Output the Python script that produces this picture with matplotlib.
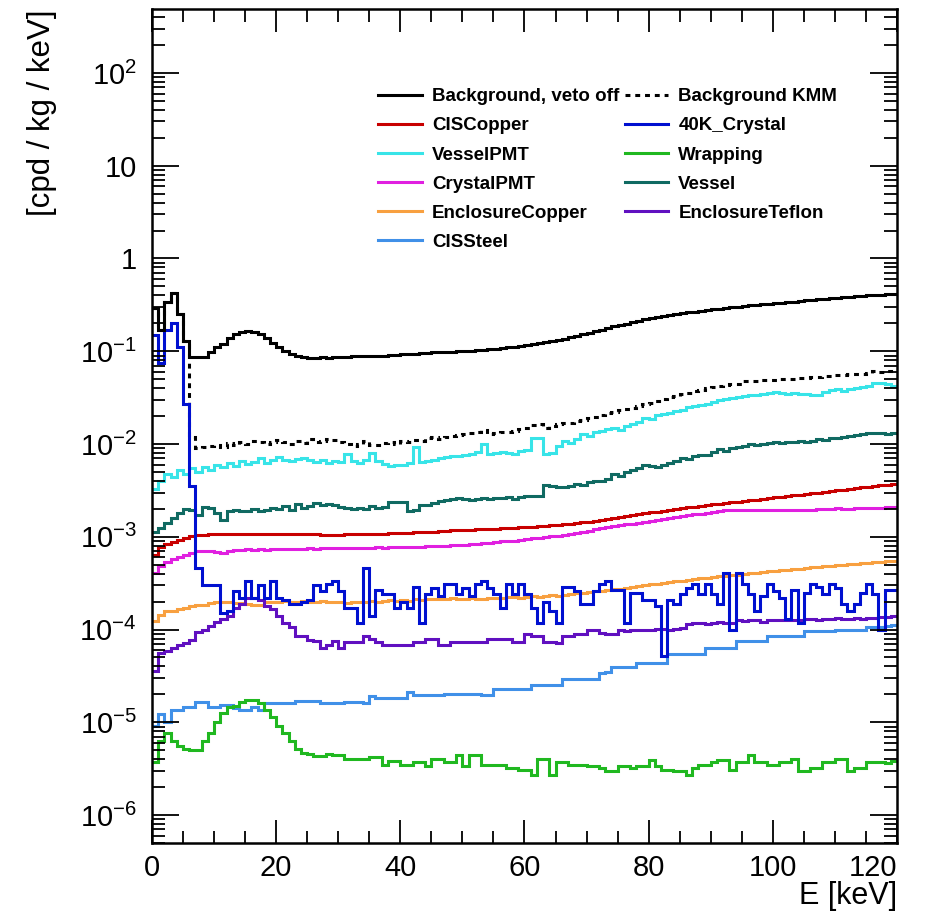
import numpy as np
import matplotlib
matplotlib.use("Agg")
import matplotlib.pyplot as plt
from matplotlib.lines import Line2D
from matplotlib.ticker import MultipleLocator, LogLocator, FuncFormatter, NullFormatter

plt.rcParams['font.family'] = ['Liberation Sans', 'DejaVu Sans']

# ---------------- data (1 keV bins, 0-120 keV) ----------------
bin_edges_keV = list(range(0, 121))

bkg_veto_off = [
    0.29, 0.17, 0.34, 0.42, 0.25, 0.13, 0.086, 0.086, 0.086, 0.097,
    0.11, 0.12, 0.139, 0.153, 0.162, 0.165, 0.162, 0.153, 0.139, 0.124,
    0.11, 0.101, 0.094, 0.089, 0.086, 0.085, 0.085, 0.086, 0.085, 0.086,
    0.087, 0.086, 0.088, 0.089, 0.088, 0.089, 0.090, 0.088, 0.091, 0.092,
    0.093, 0.094, 0.094, 0.095, 0.096, 0.097, 0.098, 0.097, 0.099, 0.100,
    0.101, 0.101, 0.102, 0.104, 0.105, 0.106, 0.108, 0.110, 0.112, 0.114,
    0.116, 0.119, 0.122, 0.125, 0.129, 0.133, 0.137, 0.142, 0.147, 0.153,
    0.159, 0.165, 0.171, 0.178, 0.185, 0.192, 0.199, 0.206, 0.213, 0.220,
    0.227, 0.233, 0.240, 0.246, 0.252, 0.258, 0.263, 0.268, 0.273, 0.278,
    0.283, 0.288, 0.293, 0.298, 0.303, 0.308, 0.312, 0.316, 0.320, 0.324,
    0.328, 0.333, 0.338, 0.343, 0.348, 0.353, 0.358, 0.363, 0.368, 0.373,
    0.378, 0.383, 0.388, 0.392, 0.396, 0.400, 0.404, 0.408, 0.412, 0.416]

bkg_kmm = [
    0.29, 0.17, 0.34, 0.42, 0.25, 0.13, 0.012, 0.0091, 0.0093, 0.0095,
    0.0098, 0.0094, 0.0102, 0.0097, 0.0105, 0.0101, 0.0108, 0.0104, 0.0099, 0.0106,
    0.0110, 0.0104, 0.0100, 0.0107, 0.0102, 0.0112, 0.0105, 0.0108, 0.0113, 0.0110,
    0.0104, 0.0101, 0.0096, 0.0100, 0.0108, 0.0098, 0.0097, 0.0103, 0.0106, 0.0101,
    0.0109, 0.0104, 0.0111, 0.0107, 0.0116, 0.0118, 0.0113, 0.0120, 0.0123, 0.0126,
    0.0129, 0.0131, 0.0134, 0.0140, 0.0128, 0.0132, 0.0136, 0.0135, 0.0139, 0.0145,
    0.0147, 0.0160, 0.0164, 0.0149, 0.0158, 0.0165, 0.0170, 0.0168, 0.0176, 0.0182,
    0.0190, 0.0197, 0.0208, 0.0214, 0.0220, 0.0230, 0.0238, 0.0246, 0.0255, 0.0268,
    0.0280, 0.0292, 0.0305, 0.0318, 0.0330, 0.0345, 0.0358, 0.0372, 0.0385, 0.0398,
    0.0410, 0.0420, 0.0430, 0.0440, 0.0448, 0.0475, 0.0480, 0.0482, 0.0486, 0.0490,
    0.0492, 0.0498, 0.0502, 0.0508, 0.0512, 0.0517, 0.0522, 0.0528, 0.0535, 0.0542,
    0.0550, 0.0556, 0.0562, 0.0568, 0.0574, 0.0580, 0.0610, 0.0605, 0.0612, 0.0608]

cis_copper = [
    0.00064, 0.00077, 0.00083, 0.00088, 0.00092, 0.00098, 0.00101, 0.00104, 0.00104, 0.00106,
    0.00106, 0.00107, 0.00107, 0.00106, 0.00107, 0.00108, 0.00107, 0.00108, 0.00108, 0.00107,
    0.00108, 0.00107, 0.00108, 0.00107, 0.00106, 0.00107, 0.00106, 0.00105, 0.00105, 0.00104,
    0.00105, 0.00106, 0.00106, 0.00106, 0.00107, 0.00107, 0.00108, 0.00108, 0.00109, 0.00110,
    0.00111, 0.00111, 0.00112, 0.00112, 0.00113, 0.00114, 0.00115, 0.00116, 0.00117, 0.00118,
    0.00118, 0.00119, 0.00120, 0.00121, 0.00121, 0.00122, 0.00123, 0.00124, 0.00125, 0.00126,
    0.00127, 0.00128, 0.00130, 0.00131, 0.00133, 0.00135, 0.00137, 0.00139, 0.00141, 0.00143,
    0.00146, 0.00149, 0.00152, 0.00156, 0.00160, 0.00163, 0.00167, 0.00171, 0.00175, 0.00179,
    0.00183, 0.00187, 0.00191, 0.00195, 0.00199, 0.00203, 0.00207, 0.00211, 0.00215, 0.00219,
    0.00223, 0.00227, 0.00231, 0.00235, 0.00240, 0.00244, 0.00248, 0.00252, 0.00257, 0.00261,
    0.00266, 0.00270, 0.00275, 0.00280, 0.00285, 0.00290, 0.00295, 0.00300, 0.00305, 0.00310,
    0.00316, 0.00322, 0.00328, 0.00334, 0.00340, 0.00346, 0.00352, 0.00358, 0.00364, 0.00370]

k40_crystal = [
    0.15, 0.075, 0.17, 0.20, 0.11, 0.027, 0.0035, 0.00046, 0.00030, 0.00030,
    0.00030, 0.00015, 0.00016, 0.00026, 0.00022, 0.00033, 0.00022, 0.00030, 0.00022, 0.00033,
    0.00022, 0.00021, 0.00019, 0.00019, 0.00020, 0.00021, 0.00030, 0.00026, 0.00031, 0.00033,
    0.00026, 0.00017, 0.00017, 0.000118, 0.00046, 0.00014, 0.00027, 0.00024, 0.00024, 0.00017,
    0.00020, 0.00017, 0.00029, 0.000118, 0.00024, 0.00028, 0.00023, 0.00031, 0.00031, 0.00024,
    0.00028, 0.00023, 0.00031, 0.00033, 0.00028, 0.00024, 0.00017, 0.00031, 0.00024, 0.00031,
    0.00024, 0.00017, 0.000118, 0.00020, 0.00016, 0.000118, 0.00029, 0.00029, 0.00026, 0.00019,
    0.00019, 0.00026, 0.00031, 0.00033, 0.00027, 0.00027, 0.000118, 0.00025, 0.00025, 0.00021,
    0.00021, 0.00018, 0.000052, 0.00021, 0.00019, 0.00024, 0.00028, 0.00031, 0.00024, 0.00031,
    0.00024, 0.00019, 0.00041, 0.00010, 0.00041, 0.00031, 0.00024, 0.00016, 0.00023, 0.00031,
    0.00026, 0.00022, 0.00013, 0.00027, 0.000118, 0.00025, 0.00031, 0.00029, 0.00024, 0.00031,
    0.00028, 0.00019, 0.00016, 0.00019, 0.00025, 0.00031, 0.00024, 0.00010, 0.00027, 0.00027]

vessel_pmt = [
    0.0033, 0.0040, 0.0047, 0.0044, 0.0052, 0.0048, 0.0055, 0.0050, 0.0057, 0.0053,
    0.0060, 0.0056, 0.0062, 0.0058, 0.0066, 0.0061, 0.0064, 0.0070, 0.0063, 0.0067,
    0.0072, 0.0068, 0.0065, 0.0069, 0.0071, 0.0067, 0.0064, 0.0068, 0.0062, 0.0066,
    0.0064, 0.0078, 0.0065, 0.0062, 0.0068, 0.0080, 0.0066, 0.0061, 0.0058, 0.0060,
    0.0059, 0.0063, 0.0092, 0.0064, 0.0066, 0.0068, 0.0070, 0.0072, 0.0075, 0.0074,
    0.0077, 0.0079, 0.0082, 0.0100, 0.0078, 0.0080, 0.0083, 0.0081, 0.0079, 0.0084,
    0.0086, 0.0117, 0.0115, 0.0078, 0.0080, 0.0095, 0.0108, 0.0102, 0.0112, 0.0128,
    0.0122, 0.0134, 0.0139, 0.0145, 0.0150, 0.0142, 0.0158, 0.0164, 0.0172, 0.0193,
    0.0186, 0.0204, 0.0210, 0.0217, 0.0226, 0.0235, 0.0248, 0.0256, 0.0264, 0.0272,
    0.0285, 0.0296, 0.0305, 0.0312, 0.0318, 0.0328, 0.0340, 0.0335, 0.0348, 0.0358,
    0.0362, 0.0352, 0.0345, 0.0356, 0.0350, 0.0345, 0.0340, 0.0338, 0.0365, 0.0378,
    0.0389, 0.0375, 0.0392, 0.0400, 0.0410, 0.0423, 0.0458, 0.0450, 0.0440, 0.0425]

wrapping = [
    3.7e-6, 6.3e-6, 7.7e-6, 6.3e-6, 5.5e-6, 5.2e-6, 5.0e-6, 5.0e-6, 6.3e-6, 7.7e-6,
    1.0e-5, 1.26e-5, 1.46e-5, 1.5e-5, 1.65e-5, 1.74e-5, 1.74e-5, 1.6e-5, 1.35e-5, 1.14e-5,
    9.2e-6, 7.7e-6, 6.3e-6, 5.2e-6, 4.7e-6, 4.5e-6, 4.3e-6, 4.3e-6, 4.5e-6, 4.4e-6,
    4.4e-6, 4.0e-6, 4.0e-6, 4.0e-6, 4.0e-6, 4.2e-6, 4.2e-6, 3.5e-6, 3.8e-6, 3.8e-6,
    3.5e-6, 3.5e-6, 3.7e-6, 3.7e-6, 3.4e-6, 4.0e-6, 4.0e-6, 3.7e-6, 3.7e-6, 4.4e-6,
    3.4e-6, 4.4e-6, 4.4e-6, 3.5e-6, 3.5e-6, 3.5e-6, 3.5e-6, 3.2e-6, 3.2e-6, 3.05e-6,
    3.05e-6, 2.7e-6, 4.0e-6, 4.0e-6, 2.7e-6, 3.7e-6, 3.7e-6, 3.5e-6, 3.5e-6, 3.5e-6,
    3.4e-6, 3.4e-6, 3.2e-6, 2.95e-6, 2.95e-6, 3.4e-6, 3.4e-6, 3.2e-6, 3.4e-6, 3.4e-6,
    3.9e-6, 3.4e-6, 3.05e-6, 3.05e-6, 2.95e-6, 2.95e-6, 2.7e-6, 3.2e-6, 3.5e-6, 3.5e-6,
    3.7e-6, 3.9e-6, 3.9e-6, 3.05e-6, 3.7e-6, 3.7e-6, 4.4e-6, 3.7e-6, 3.7e-6, 3.5e-6,
    3.5e-6, 3.7e-6, 3.7e-6, 4.0e-6, 2.95e-6, 2.95e-6, 3.2e-6, 3.2e-6, 3.7e-6, 3.7e-6,
    4.0e-6, 4.0e-6, 2.95e-6, 3.2e-6, 3.2e-6, 3.7e-6, 3.7e-6, 3.7e-6, 3.6e-6, 3.8e-6]

crystal_pmt = [
    0.00041, 0.00048, 0.00054, 0.00057, 0.00061, 0.00064, 0.00067, 0.00070, 0.00070, 0.00071,
    0.00068, 0.00067, 0.00070, 0.00072, 0.00072, 0.00073, 0.00072, 0.00073, 0.00072, 0.00073,
    0.00073, 0.00074, 0.00073, 0.00074, 0.00074, 0.00075, 0.00074, 0.00075, 0.00075, 0.00075,
    0.00075, 0.00076, 0.00075, 0.00076, 0.00076, 0.00076, 0.00077, 0.00076, 0.00077, 0.00077,
    0.00077, 0.00078, 0.00078, 0.00078, 0.00079, 0.00079, 0.00080, 0.00080, 0.00081, 0.00081,
    0.00082, 0.00083, 0.00084, 0.00085, 0.00086, 0.00087, 0.00089, 0.00090, 0.00091, 0.00093,
    0.00094, 0.00096, 0.00098, 0.00099, 0.00101, 0.00103, 0.00105, 0.00108, 0.00110, 0.00113,
    0.00116, 0.00120, 0.00124, 0.00127, 0.00130, 0.00133, 0.00136, 0.00139, 0.00142, 0.00145,
    0.00148, 0.00151, 0.00154, 0.00158, 0.00162, 0.00166, 0.00170, 0.00174, 0.00178, 0.00182,
    0.00186, 0.00190, 0.00195, 0.00193, 0.00194, 0.00193, 0.00194, 0.00193, 0.00194, 0.00193,
    0.00194, 0.00194, 0.00193, 0.00194, 0.00195, 0.00195, 0.00196, 0.00197, 0.00198, 0.00200,
    0.00203, 0.00201, 0.00200, 0.00202, 0.00203, 0.00204, 0.00205, 0.00206, 0.00207, 0.00208]

vessel = [
    0.00114, 0.00125, 0.00141, 0.00160, 0.00180, 0.00200, 0.00195, 0.00170, 0.00210, 0.00205,
    0.00180, 0.00150, 0.00190, 0.00195, 0.00188, 0.00192, 0.00200, 0.00190, 0.00195, 0.00205,
    0.00200, 0.00215, 0.00195, 0.00225, 0.00205, 0.00215, 0.00230, 0.00218, 0.00225, 0.00220,
    0.00212, 0.00205, 0.00200, 0.00202, 0.00198, 0.00215, 0.00206, 0.00210, 0.00240, 0.00238,
    0.00235, 0.00190, 0.00196, 0.00222, 0.00220, 0.00230, 0.00245, 0.00250, 0.00255, 0.00262,
    0.00258, 0.00250, 0.00255, 0.00262, 0.00258, 0.00265, 0.00262, 0.00268, 0.00258, 0.00270,
    0.00272, 0.00275, 0.00278, 0.00360, 0.00350, 0.00345, 0.00340, 0.00350, 0.00370, 0.00365,
    0.00385, 0.00395, 0.00400, 0.00420, 0.00470, 0.00455, 0.00500, 0.00530, 0.00545, 0.00600,
    0.00580, 0.00570, 0.00600, 0.00620, 0.00650, 0.00710, 0.00690, 0.00740, 0.00770, 0.00760,
    0.00820, 0.00880, 0.00850, 0.00900, 0.00920, 0.00950, 0.01000, 0.00980, 0.01010, 0.01020,
    0.01040, 0.01030, 0.01050, 0.01040, 0.01070, 0.01060, 0.01080, 0.01120, 0.01100, 0.01150,
    0.01170, 0.01190, 0.01210, 0.01260, 0.01280, 0.01330, 0.01320, 0.01300, 0.01290, 0.01310]

enclosure_copper = [
    0.000123, 0.000143, 0.000158, 0.000160, 0.000168, 0.000172, 0.000178, 0.000182, 0.000183, 0.000193,
    0.000198, 0.000200, 0.000196, 0.000192, 0.000194, 0.000190, 0.000184, 0.000186, 0.000196, 0.000200,
    0.000198, 0.000203, 0.000200, 0.000197, 0.000202, 0.000196, 0.000200, 0.000205, 0.000199, 0.000200,
    0.000198, 0.000195, 0.000196, 0.000200, 0.000198, 0.000203, 0.000197, 0.000201, 0.000206, 0.000204,
    0.000209, 0.000205, 0.000211, 0.000208, 0.000213, 0.000216, 0.000214, 0.000212, 0.000218, 0.000214,
    0.000216, 0.000219, 0.000215, 0.000213, 0.000217, 0.000220, 0.000218, 0.000222, 0.000224, 0.000220,
    0.000225, 0.000228, 0.000226, 0.000231, 0.000234, 0.000230, 0.000236, 0.000240, 0.000245, 0.000250,
    0.000254, 0.000258, 0.000262, 0.000266, 0.000272, 0.000276, 0.000282, 0.000288, 0.000294, 0.000300,
    0.000306, 0.000312, 0.000318, 0.000325, 0.000331, 0.000337, 0.000343, 0.000349, 0.000356, 0.000362,
    0.000368, 0.000374, 0.000380, 0.000386, 0.000392, 0.000398, 0.000404, 0.000410, 0.000417, 0.000424,
    0.000430, 0.000436, 0.000442, 0.000448, 0.000455, 0.000462, 0.000468, 0.000474, 0.000480, 0.000487,
    0.000494, 0.000500, 0.000506, 0.000512, 0.000518, 0.000524, 0.000530, 0.000536, 0.000542, 0.000548]

enclosure_teflon = [
    3.6e-5, 5.6e-5, 5.8e-5, 6.3e-5, 6.8e-5, 7.2e-5, 7.7e-5, 9.4e-5, 1.0e-4, 1.1e-4,
    1.2e-4, 1.3e-4, 1.4e-4, 1.7e-4, 1.9e-4, 2.2e-4, 2.2e-4, 2.1e-4, 1.8e-4, 1.65e-4,
    1.4e-4, 1.18e-4, 1.06e-4, 8.6e-5, 8.6e-5, 7.7e-5, 7.6e-5, 6.3e-5, 6.8e-5, 7.6e-5,
    6.3e-5, 7.4e-5, 7.4e-5, 7.4e-5, 8.6e-5, 8.0e-5, 7.4e-5, 6.8e-5, 6.8e-5, 6.8e-5,
    6.8e-5, 6.8e-5, 7.4e-5, 7.4e-5, 7.9e-5, 7.9e-5, 6.8e-5, 6.8e-5, 7.4e-5, 7.4e-5,
    7.4e-5, 7.4e-5, 7.4e-5, 7.4e-5, 8.0e-5, 8.0e-5, 8.0e-5, 8.0e-5, 7.4e-5, 7.4e-5,
    8.9e-5, 8.6e-5, 8.6e-5, 7.4e-5, 7.4e-5, 7.1e-5, 8.6e-5, 8.6e-5, 8.9e-5, 8.9e-5,
    1.0e-4, 1.0e-4, 9.2e-5, 8.9e-5, 8.9e-5, 9.9e-5, 9.7e-5, 9.9e-5, 1.0e-4, 9.9e-5,
    9.9e-5, 1.02e-4, 1.02e-4, 1.0e-4, 1.02e-4, 1.04e-4, 1.16e-4, 1.18e-4, 1.18e-4, 1.15e-4,
    1.18e-4, 1.2e-4, 1.18e-4, 1.18e-4, 1.26e-4, 1.24e-4, 1.26e-4, 1.26e-4, 1.22e-4, 1.26e-4,
    1.26e-4, 1.28e-4, 1.26e-4, 1.26e-4, 1.26e-4, 1.3e-4, 1.3e-4, 1.28e-4, 1.3e-4, 1.3e-4,
    1.32e-4, 1.3e-4, 1.3e-4, 1.33e-4, 1.3e-4, 1.32e-4, 1.34e-4, 1.36e-4, 1.38e-4, 1.4e-4]

cis_steel = [
    9.2e-6, 1.24e-5, 1.0e-5, 1.35e-5, 1.35e-5, 1.46e-5, 1.46e-5, 1.65e-5, 1.65e-5, 1.46e-5,
    1.46e-5, 1.55e-5, 1.55e-5, 1.42e-5, 1.35e-5, 1.35e-5, 1.46e-5, 1.35e-5, 1.6e-5, 1.6e-5,
    1.6e-5, 1.6e-5, 1.6e-5, 1.7e-5, 1.7e-5, 1.7e-5, 1.7e-5, 1.6e-5, 1.6e-5, 1.6e-5,
    1.6e-5, 1.65e-5, 1.65e-5, 1.65e-5, 1.6e-5, 1.9e-5, 1.85e-5, 1.85e-5, 1.85e-5, 1.85e-5,
    1.85e-5, 2.1e-5, 1.95e-5, 1.95e-5, 1.95e-5, 1.95e-5, 1.95e-5, 2.0e-5, 2.0e-5, 2.0e-5,
    2.0e-5, 2.0e-5, 2.0e-5, 1.95e-5, 1.95e-5, 2.3e-5, 2.3e-5, 2.3e-5, 2.3e-5, 2.3e-5,
    2.3e-5, 2.5e-5, 2.5e-5, 2.5e-5, 2.5e-5, 2.5e-5, 2.95e-5, 2.95e-5, 2.95e-5, 2.95e-5,
    2.95e-5, 2.95e-5, 3.4e-5, 3.5e-5, 3.9e-5, 3.9e-5, 3.9e-5, 3.9e-5, 4.4e-5, 4.4e-5,
    4.4e-5, 4.4e-5, 4.4e-5, 5.4e-5, 5.4e-5, 5.4e-5, 5.4e-5, 5.4e-5, 5.4e-5, 6.3e-5,
    6.3e-5, 6.3e-5, 6.3e-5, 6.3e-5, 7.5e-5, 7.5e-5, 7.5e-5, 7.5e-5, 7.5e-5, 8.5e-5,
    8.5e-5, 8.5e-5, 8.5e-5, 8.5e-5, 8.5e-5, 9.6e-5, 9.6e-5, 9.6e-5, 9.6e-5, 9.6e-5,
    1.0e-4, 1.0e-4, 1.0e-4, 1.0e-4, 1.0e-4, 1.07e-4, 1.07e-4, 1.07e-4, 1.1e-4, 1.12e-4]

labels = ["Background, veto off", "Background KMM", "CISCopper", "40K_Crystal",
          "VesselPMT", "Wrapping", "CrystalPMT", "Vessel", "EnclosureCopper",
          "EnclosureTeflon", "CISSteel"]
colors = ["#000000", "#000000", "#c80000", "#0010d0", "#38e4e8", "#20b820",
          "#e020e0", "#106a62", "#f8a040", "#6010c0", "#4090e8"]
styles = ["-", (0, (1.6, 1.6)), "-", "-", "-", "-", "-", "-", "-", "-", "-"]
series = [bkg_veto_off, bkg_kmm, cis_copper, k40_crystal, vessel_pmt, wrapping,
          crystal_pmt, vessel, enclosure_copper, enclosure_teflon, cis_steel]

# ---------------- figure ----------------
fig = plt.figure(figsize=(9.36, 9.14), dpi=100)
ax = fig.add_axes([0.1624, 0.0777, 0.7959, 0.9125])

lw = 2.2
edges = np.array(bin_edges_keV, dtype=float)
draw_order = [1, 2, 4, 6, 8, 10, 5, 7, 9, 3, 0]
for i in draw_order:
    ax.stairs(series[i], edges, baseline=None, color=colors[i], lw=lw,
              linestyle=styles[i])

ax.set_yscale('log')
ax.set_xlim(0, 120)
ax.set_ylim(5e-7, 490)

for s in ax.spines.values():
    s.set_linewidth(1.8)

ax.xaxis.set_major_locator(MultipleLocator(20))
ax.xaxis.set_minor_locator(MultipleLocator(5))
ax.yaxis.set_major_locator(LogLocator(base=10, numticks=30))
ax.yaxis.set_minor_locator(LogLocator(base=10, subs=np.arange(2, 10), numticks=30))
ax.yaxis.set_minor_formatter(NullFormatter())


def yfmt(v, pos):
    e = int(round(np.log10(v)))
    if e == 0:
        return "1"
    if e == 1:
        return "10"
    return r"$\mathregular{10^{%d}}$" % e


ax.yaxis.set_major_formatter(FuncFormatter(yfmt))
ax.tick_params(which='both', direction='in', top=True, right=True, width=1.3,
               labelsize=21)
ax.tick_params(axis='x', which='major', length=16.5, pad=8)
ax.tick_params(axis='x', which='minor', length=9)
ax.tick_params(axis='y', which='major', length=19.5, pad=11)
ax.tick_params(axis='y', which='minor', length=9.5)

fig.canvas.draw()
for tk in ax.xaxis.get_major_ticks():
    if abs(tk.get_loc() - 120) < 1e-6:
        tk.label1.set_horizontalalignment('right')

fig.text(0.958, 1 - 881 / 914, "E [keV]", ha='right', va='top', fontsize=22)
fig.text(0.045, 0.99, "[cpd / kg / keV]", ha='center', va='top', rotation=90,
         fontsize=22.5)

# legend: first column then second column
order = [0, 2, 4, 6, 8, 10, 1, 3, 5, 7, 9]
handles = [Line2D([], [], color=colors[i], lw=lw, linestyle=styles[i]) for i in order]
leg = ax.legend(handles, [labels[i] for i in order], ncol=2, loc='upper left',
                bbox_to_anchor=(0.304, 0.905), frameon=False, handlelength=2.3,
                handletextpad=0.55, columnspacing=0.3, labelspacing=0.64,
                borderaxespad=0, borderpad=0,
                prop={'family': ['Liberation Sans', 'DejaVu Sans'],
                      'weight': 'bold', 'size': 13.5})

fig.savefig("out.png", dpi=100)
